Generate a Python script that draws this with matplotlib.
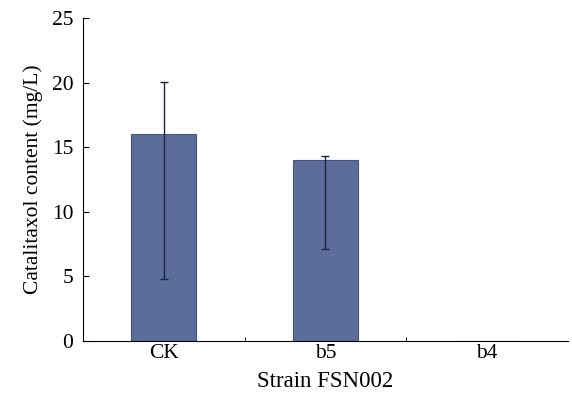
import numpy as np
import matplotlib
matplotlib.use('Agg')
import matplotlib.pyplot as plt

strains = ['CK', 'b5', 'b4']
content = [16.0, 14.0, 0.0]
err_low = [11.2, 6.9, 0.0]
err_high = [4.05, 0.3, 0.0]

plt.rcParams['font.family'] = ['Liberation Serif', 'DejaVu Serif']

fig = plt.figure(figsize=(5.72, 3.97), dpi=100)
ax = fig.add_axes([0.145, 0.141, 0.848, 0.813])

x = np.arange(len(strains))
ax.bar(x, content, width=0.4, color='#5b6d98', edgecolor='#44557f', linewidth=0.8)
for xi, v, lo, hi in zip(x, content, err_low, err_high):
    if v > 0:
        ax.errorbar(xi, v, yerr=[[lo], [hi]], fmt='none', ecolor='#1c2540',
                    elinewidth=1.0, capsize=3, capthick=1.0)

ax.set_xlim(-0.5, 2.5)
ax.set_ylim(0, 25)
ax.set_yticks([0, 5, 10, 15, 20, 25])
ax.set_xticks(x)
ax.set_xticklabels(strains)
ax.set_xticks([0.5, 1.5], minor=True)
ax.tick_params(axis='y', direction='in', length=4, labelsize=15.5, pad=7)
ax.tick_params(axis='x', which='major', length=0, labelsize=15.5, pad=2)
ax.tick_params(axis='x', which='minor', direction='in', length=3)
ax.spines['top'].set_visible(False)
ax.spines['right'].set_visible(False)
ax.set_xlabel('Strain FSN002', fontsize=16.5, labelpad=6)
ax.set_ylabel('Catalitaxol content (mg/L)', fontsize=15.5, labelpad=6)

plt.savefig('out.png', dpi=100)
